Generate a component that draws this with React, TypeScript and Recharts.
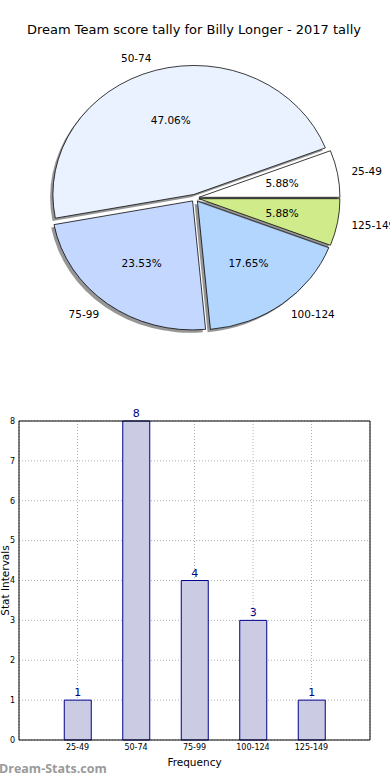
import React from 'react'
import {
  PieChart,
  Pie,
  BarChart,
  Bar,
  XAxis,
  YAxis,
  CartesianGrid,
  LabelList,
  ReferenceLine,
} from 'recharts'

// score intervals and how many games fell in each
const categories = ['25-49', '50-74', '75-99', '100-124', '125-149']
const counts = [1, 8, 4, 3, 1]
const sliceColors = ['#ffffff', '#eaf2ff', '#c4d8ff', '#b3d6ff', '#cfeb8a']
const yTicks = [0, 1, 2, 3, 4, 5, 6, 7, 8]
const xTicks = [1, 2, 3, 4, 5]
const xDomain = [0, 6]
const yDomain = [0, 8]

const FONT = '"DejaVu Sans", sans-serif'

// pie geometry (matplotlib draws it slightly squashed)
const PIE_CX = 195
const PIE_CY = 198
const PIE_R = 141
const SQUASH = 129 / 141
const EXPLODE = 4
const SHADOW = 2.8

const total = counts.reduce((a, b) => a + b, 0)

const slices = categories.map((name, i) => {
  const before = counts.slice(0, i).reduce((a, b) => a + b, 0)
  const startAngle = (before / total) * 360
  const endAngle = ((before + counts[i]) / total) * 360
  const mid = ((startAngle + endAngle) / 2) * (Math.PI / 180)
  return {
    name,
    value: counts[i],
    color: sliceColors[i],
    startAngle,
    endAngle,
    dx: EXPLODE * Math.cos(mid),
    dy: -EXPLODE * Math.sin(mid),
  }
})

const barData = categories.map((label, i) => ({ pos: i + 1, label, count: counts[i] }))

const renderSliceLabel = (props: any) => {
  const { cx, cy, midAngle, outerRadius } = props
  const name = props.name ?? props.payload?.name
  const value = props.value ?? props.payload?.value
  const rad = (midAngle * Math.PI) / 180
  const cos = Math.cos(rad)
  const sin = Math.sin(rad)
  const lx = cx + outerRadius * 1.1 * cos
  const ly = cy - outerRadius * 1.1 * sin
  const px = cx + outerRadius * 0.6 * cos
  const py = cy - outerRadius * 0.6 * sin
  const unsquash = `scale(1, ${1 / SQUASH})`
  return (
    <g>
      <text
        transform={`translate(${lx},${ly}) ${unsquash}`}
        textAnchor={cos >= 0 ? 'start' : 'end'}
        dominantBaseline="central"
        fontSize={10.5}
        fontFamily={FONT}
        fill="#000"
      >
        {name}
      </text>
      <text
        transform={`translate(${px},${py}) ${unsquash}`}
        textAnchor="middle"
        dominantBaseline="central"
        fontSize={10.5}
        fontFamily={FONT}
        fill="#000"
      >
        {((value / total) * 100).toFixed(2)}%
      </text>
    </g>
  )
}

const App: React.FC = () => {
  return (
    <div style={{ position: 'absolute', left: 0, top: 0, width: 390, height: 780, background: '#fff' }}>
      <div
        style={{
          position: 'absolute',
          top: 22,
          left: 0,
          width: 388,
          textAlign: 'center',
          fontFamily: FONT,
          fontSize: 13,
          color: '#000',
          whiteSpace: 'nowrap',
        }}
      >
        Dream Team score tally for Billy Longer - 2017 tally
      </div>

      <div
        style={{
          position: 'absolute',
          top: 0,
          left: 0,
          width: 390,
          height: 400,
          transform: `scaleY(${SQUASH})`,
          transformOrigin: `${PIE_CX}px ${PIE_CY}px`,
        }}
      >
        <PieChart width={390} height={400} margin={{ top: 0, right: 0, bottom: 0, left: 0 }}>
          {slices.flatMap((s, i) => [
            <Pie
              key={`shadow-${i}`}
              data={[s]}
              dataKey="value"
              nameKey="name"
              startAngle={s.startAngle}
              endAngle={s.endAngle}
              cx={PIE_CX + s.dx - SHADOW}
              cy={PIE_CY + s.dy + SHADOW / SQUASH}
              outerRadius={PIE_R}
              fill="#404040"
              fillOpacity={0.55}
              stroke="none"
              label={false}
              labelLine={false}
              isAnimationActive={false}
            />,
            <Pie
              key={`slice-${i}`}
              data={[s]}
              dataKey="value"
              nameKey="name"
              startAngle={s.startAngle}
              endAngle={s.endAngle}
              cx={PIE_CX + s.dx}
              cy={PIE_CY + s.dy}
              outerRadius={PIE_R}
              fill={s.color}
              stroke="#000"
              strokeWidth={0.8}
              label={renderSliceLabel}
              labelLine={false}
              isAnimationActive={false}
            />,
          ])}
        </PieChart>
      </div>

      <div style={{ position: 'absolute', top: 400, left: 0 }}>
        <BarChart width={390} height={380} data={barData} margin={{ top: 21, right: 20, bottom: 0, left: 0 }}>
          <CartesianGrid stroke="#b0b0b0" strokeDasharray="1 2" />
          <XAxis
            dataKey="pos"
            type="number"
            domain={xDomain}
            ticks={xTicks}
            interval={0}
            tickFormatter={(v: number) => categories[v - 1]}
            height={40}
            tickLine={false}
            tickSize={0}
            tickMargin={4}
            axisLine={{ stroke: '#000' }}
            tick={{ fontSize: 8, fill: '#000', fontFamily: FONT }}
            label={{
              value: 'Frequency',
              position: 'insideBottom',
              offset: 14,
              fill: '#000',
              fontSize: 10.5,
              fontFamily: FONT,
            }}
          />
          <YAxis
            domain={yDomain}
            ticks={yTicks}
            width={19}
            tickLine={false}
            tickSize={0}
            tickMargin={4}
            axisLine={{ stroke: '#000' }}
            tick={{ fontSize: 8, fill: '#000', fontFamily: FONT }}
            label={{
              value: 'Stat Intervals',
              angle: -90,
              position: 'insideLeft',
              offset: 5.5,
              fill: '#000',
              fontSize: 10.5,
              fontFamily: FONT,
              style: { textAnchor: 'middle' },
            }}
          />
          {/* close the frame on top and right like matplotlib does */}
          <ReferenceLine y={yDomain[1]} stroke="#000" strokeWidth={1} />
          <ReferenceLine x={xDomain[1]} stroke="#000" strokeWidth={1} />
          <Bar dataKey="count" barSize={27} fill="#cbcce4" stroke="#00008b" strokeWidth={1} isAnimationActive={false}>
            <LabelList dataKey="count" position="top" offset={4} fill="#00008b" fontSize={11} fontFamily={FONT} />
          </Bar>
        </BarChart>
      </div>

      <div
        style={{
          position: 'absolute',
          top: 760,
          left: -1,
          fontFamily: '"Open Sans", sans-serif',
          fontWeight: 'bold',
          fontSize: 12.5,
          color: '#9a9a9a',
          whiteSpace: 'nowrap',
        }}
      >
        Dream-Stats.com
      </div>
    </div>
  )
}

export default App
